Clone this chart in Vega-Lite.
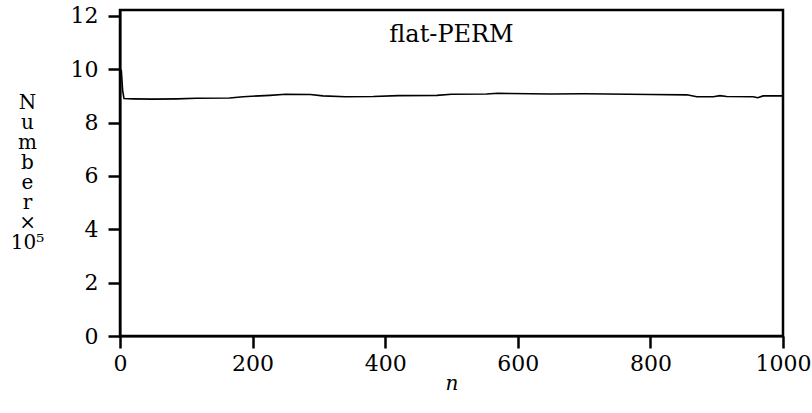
{
  "$schema": "https://vega.github.io/schema/vega-lite/v6.json",
  "width": 663,
  "height": 326,
  "autosize": {"type": "none"},
  "padding": {"left": 120, "top": 10, "right": 29, "bottom": 77},
  "background": "white",
  "config": {
    "view": {"stroke": "black", "strokeWidth": 2.5},
    "font": "DejaVu Serif",
    "axis": {
      "grid": false,
      "domainColor": "black",
      "domainWidth": 2,
      "tickColor": "black",
      "tickWidth": 2.5,
      "tickSize": 12,
      "labelColor": "black",
      "labelFont": "DejaVu Serif",
      "labelFontSize": 22,
      "titleColor": "black",
      "titleFont": "DejaVu Serif",
      "titleFontSize": 20,
      "titleFontWeight": "normal"
    }
  },
  "datasets": {
    "series": [
      {"n": 0, "v": 10.0},
      {"n": 2, "v": 9.95},
      {"n": 4, "v": 9.2},
      {"n": 6, "v": 8.9},
      {"n": 20, "v": 8.89},
      {"n": 50, "v": 8.88},
      {"n": 86, "v": 8.89},
      {"n": 115, "v": 8.91},
      {"n": 165, "v": 8.92},
      {"n": 186, "v": 8.97},
      {"n": 226, "v": 9.02},
      {"n": 250, "v": 9.06},
      {"n": 287, "v": 9.05},
      {"n": 306, "v": 9.0},
      {"n": 340, "v": 8.97},
      {"n": 382, "v": 8.98},
      {"n": 420, "v": 9.01},
      {"n": 478, "v": 9.02},
      {"n": 500, "v": 9.06},
      {"n": 553, "v": 9.07},
      {"n": 570, "v": 9.1},
      {"n": 588, "v": 9.09},
      {"n": 649, "v": 9.07},
      {"n": 700, "v": 9.08},
      {"n": 735, "v": 9.07},
      {"n": 800, "v": 9.05},
      {"n": 855, "v": 9.04},
      {"n": 870, "v": 8.97},
      {"n": 895, "v": 8.97},
      {"n": 905, "v": 9.01},
      {"n": 915, "v": 8.98},
      {"n": 955, "v": 8.97},
      {"n": 962, "v": 8.93},
      {"n": 970, "v": 9.0},
      {"n": 1000, "v": 9.0}
    ],
    "label": [
      {"n": 500, "v": 11.3, "text": "flat-PERM"}
    ]
  },
  "layer": [
    {
      "data": {"name": "series"},
      "mark": {"type": "line", "color": "black", "strokeWidth": 1.6, "clip": true},
      "encoding": {
        "x": {
          "field": "n",
          "type": "quantitative",
          "scale": {"domain": [0, 1000], "nice": false},
          "axis": {
            "values": [0, 200, 400, 600, 800, 1000],
            "format": "d",
            "title": "n",
            "titleFontStyle": "italic",
            "titleY": 47,
            "titleBaseline": "middle",
            "labelPadding": 5,
            "labelFlush": false
          }
        },
        "y": {
          "field": "v",
          "type": "quantitative",
          "scale": {"domain": [0, 12.22], "nice": false, "zero": false},
          "axis": {
            "values": [0, 2, 4, 6, 8, 10, 12],
            "format": "d",
            "title": ["N", "u", "m", "b", "e", "r", "×", "10⁵"],
            "titleAngle": 0,
            "titleAlign": "center",
            "titleBaseline": "middle",
            "titleFontSize": 20,
            "titleX": -93,
            "titleY": 92,
            "titleLineHeight": 20,
            "labelPadding": 10
          }
        }
      }
    },
    {
      "data": {"name": "label"},
      "mark": {"type": "text", "font": "DejaVu Serif", "fontSize": 24, "color": "black", "baseline": "middle", "align": "center"},
      "encoding": {
        "x": {"field": "n", "type": "quantitative"},
        "y": {"field": "v", "type": "quantitative"},
        "text": {"field": "text"}
      }
    }
  ]
}
